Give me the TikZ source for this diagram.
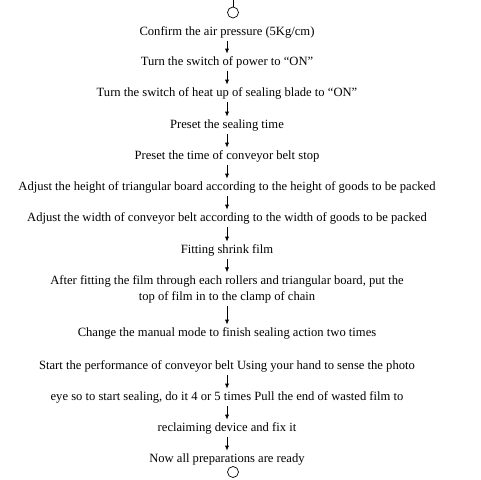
\documentclass[tikz,border=0pt]{standalone}
\usepackage{fontspec}
\setmainfont{Liberation Serif}
\usepackage{tikz}
\usetikzlibrary{arrows.meta, positioning}

\begin{document}
\begin{tikzpicture}[
  stepnode/.style={inner sep=2pt, align=center, text height=8.5pt,
                   text depth=2.5pt, font=\fontsize{12.6}{16}\selectfont},
  endnode/.style={draw, circle, minimum size=11pt, inner sep=0pt},
  >={Latex[length=5pt, width=4pt]}, on grid, line width=0.7pt
]
\useasboundingbox (0,0) rectangle (481pt,-479pt);
\coordinate (top) at (233pt,0);
\node[endnode] (start) at (233pt,-12.5pt) {};
\node[stepnode] (air) at (227pt,-32pt) {Confirm the air pressure (5Kg/cm)};
\node[stepnode, below=30pt of air] (power) {Turn the switch of power to ``ON''};
\node[stepnode, below=31pt of power] (heat)
    {Turn the switch of heat up of sealing blade to ``ON''};
\node[stepnode, below=32pt of heat] (sealtime) {Preset the sealing time};
\node[stepnode, below=31pt of sealtime] (stoptime)
    {Preset the time of conveyor belt stop};
\node[stepnode, below=31pt of stoptime] (height)
    {Adjust the height of triangular board according to the height of goods to be packed};
\node[stepnode, below=31pt of height] (width)
    {Adjust the width of conveyor belt according to the width of goods to be packed};
\node[stepnode, below=32pt of width] (film) {Fitting shrink film};
\node[stepnode, below=39pt of film, text height=, text depth=] (clamp)
    {After fitting the film through each rollers and triangular board, put the\\
     top of film in to the clamp of chain};
\node[stepnode, below=44pt of clamp] (manual)
    {Change the manual mode to finish sealing action two times};
\node[stepnode, below=33pt of manual] (belt)
    {Start the performance of conveyor belt Using your hand to sense the photo};
\node[stepnode, below=31pt of belt] (eye)
    {eye so to start sealing, do it 4 or 5 times Pull the end of wasted film to};
\node[stepnode, below=31pt of eye] (reclaim) {reclaiming device and fix it};
\node[stepnode, below=31pt of reclaim] (ready) {Now all preparations are ready};
\node[endnode] (finish) at (233pt,-472pt) {};
\draw (top) -- (start.north);
\foreach \a/\b in {air/power, power/heat, heat/sealtime, sealtime/stoptime,
                   stoptime/height, height/width, width/film, film/clamp,
                   clamp/manual, belt/eye, eye/reclaim, reclaim/ready}
  \draw[->, shorten <=1pt, shorten >=0.5pt] (\a.south) -- (\b.north);
\end{tikzpicture}
\end{document}
